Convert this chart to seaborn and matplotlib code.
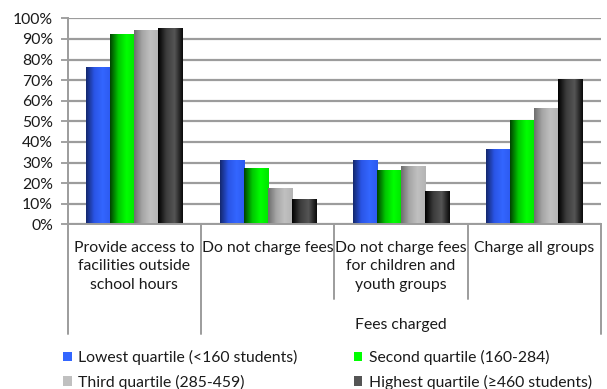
import numpy as np
import pandas as pd
import matplotlib
matplotlib.use("Agg")
import matplotlib.pyplot as plt
from matplotlib.colors import LinearSegmentedColormap, to_rgb
from matplotlib.patches import Patch
from matplotlib.ticker import FuncFormatter
import seaborn as sns

# Survey results: share of schools (%) by school-size quartile
categories = [
    "Provide access to\nfacilities outside\nschool hours",
    "Do not charge fees",
    "Do not charge fees\nfor children and\nyouth groups",
    "Charge all groups",
]
quartiles = [
    "Lowest quartile (<160 students)",
    "Second quartile (160-284)",
    "Third quartile (285-459)",
    "Highest quartile (\u2265460 students)",
]
lowest = [76, 31, 31, 36]
second = [92, 27, 26, 50]
third = [94, 17, 28, 56]
highest = [95, 12, 16, 70]
group_label = "Fees charged"

# Shading stops for the cylinder-like bar fill of each series
shades = {
    quartiles[0]: ["#14286e", "#2a55e6", "#3366ff", "#2d5af0"],
    quartiles[1]: ["#004400", "#00c800", "#00ff00", "#00e600"],
    quartiles[2]: ["#6e6e6e", "#a6a6a6", "#c0c0c0", "#b4b4b4"],
    quartiles[3]: ["#000000", "#3c3c3c", "#555555", "#0a0a0a"],
}
mid_colors = {q: s[2] for q, s in shades.items()}

df = pd.DataFrame({
    "category": np.repeat(categories, 4),
    "quartile": quartiles * len(categories),
    "value": np.ravel(np.column_stack([lowest, second, third, highest])),
})

sns.set_theme(style="white")
plt.rcParams["font.family"] = ["Lato", "DejaVu Sans"]
FS = 11.3

W, H = 607, 389
fig = plt.figure(figsize=(W / 100, H / 100), dpi=100)
left, right, top, bottom = 67.5, 601, 18.3, 224.3
ax = fig.add_axes([left / W, 1 - bottom / H, (right - left) / W, (bottom - top) / H])

sns.barplot(data=df, x="category", y="value", hue="quartile",
            hue_order=quartiles, order=categories,
            palette=mid_colors, width=0.72, gap=0, ax=ax,
            legend=False, linewidth=0, saturation=1)

# Horizontal gradient fill over every bar
for q, cont in zip(quartiles, ax.containers):
    cmap = LinearSegmentedColormap.from_list(q, [to_rgb(c) for c in shades[q]])
    grad = cmap(np.linspace(0, 1, 64))[np.newaxis, :, :]
    for bar in cont:
        x0, w, h = bar.get_x(), bar.get_width(), bar.get_height()
        ax.imshow(grad, extent=[x0, x0 + w, 0, h], aspect="auto",
                  interpolation="bilinear", zorder=bar.get_zorder() + 0.1)

ax.set_xlim(-0.5, len(categories) - 0.5)
ax.set_ylim(0, 100)
ax.set_yticks(np.arange(0, 101, 10))
ax.yaxis.set_major_formatter(FuncFormatter(lambda v, _: f"{v:.0f}%"))
ax.tick_params(axis="y", which="major", length=5, width=1.3, color="#9a9a9a",
               pad=5.5, labelsize=FS, labelcolor="#1a1a1a", left=True)
ax.set_xticks([])
ax.set_xlabel("")
ax.set_ylabel("")
ax.set_axisbelow(True)
ax.grid(axis="y", color="#9c9c9c", linewidth=1.6)
ax.grid(axis="x", visible=False)

for side in ["top", "right"]:
    ax.spines[side].set_visible(False)
for side in ["left", "bottom"]:
    ax.spines[side].set_color("#9c9c9c")
    ax.spines[side].set_linewidth(1.4)

# Two-level category axis below the plot
xt = ax.get_xaxis_transform()
px = 1.0 / (bottom - top)  # one pixel in axes-fraction units
line_kw = dict(color="#9c9c9c", lw=1.4, clip_on=False, transform=xt)
for xs, depth in [(-0.5, 110), (0.5, 110), (1.5, 75), (2.5, 75), (3.5, 110)]:
    ax.plot([xs, xs], [0, -depth * px], **line_kw)

for i, lab in enumerate(categories):
    ax.text(i, -17 * px, lab, transform=xt, ha="center", va="top",
            fontsize=FS, linespacing=1.38, color="#1a1a1a")
ax.text(2, -101 * px, group_label, transform=xt, ha="center", va="center",
        fontsize=FS, color="#1a1a1a")

# Legend in two rows beneath the axis
handles = [Patch(facecolor=mid_colors[q], edgecolor="none") for q in quartiles]
order = [0, 2, 1, 3]
fig.legend([handles[i] for i in order], [quartiles[i] for i in order],
           loc="upper left", bbox_to_anchor=(63 / W, 1 - 350 / H),
           ncol=2, frameon=False, fontsize=FS, borderpad=0, borderaxespad=0,
           handlelength=0.55, handleheight=0.55, handletextpad=0.4,
           columnspacing=3.6, labelspacing=0.6, labelcolor="#1a1a1a")

fig.savefig("out.png", dpi=100)
